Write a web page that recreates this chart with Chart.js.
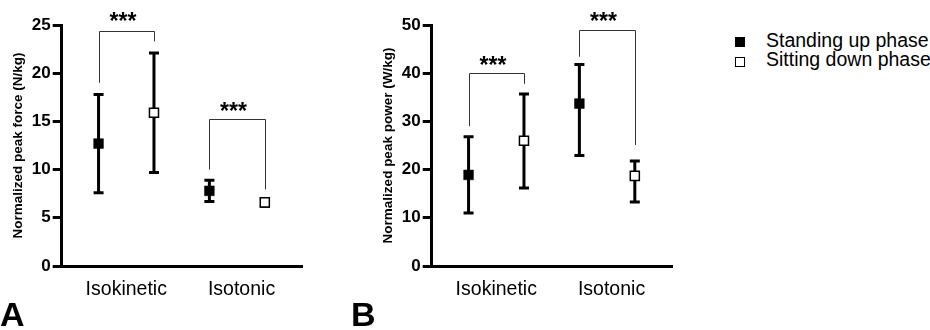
<!DOCTYPE html>
<html>
<head>
<meta charset="utf-8">
<script src="https://cdn.jsdelivr.net/npm/chart.js@4/dist/chart.umd.min.js"></script>
<style>
  body { margin: 0; background: #fff; font-family: "Liberation Sans", Arial, sans-serif; }
  #wrap { position: relative; width: 930px; height: 330px; overflow: hidden; }
  canvas { position: absolute; top: 0; }
  #chartA { left: 0; }
  #chartB { left: 370px; }
  .letter { position: absolute; font-weight: bold; font-size: 34px; line-height: 34px; color: #000; }
  .leg-text { position: absolute; left: 766px; font-size: 19.5px; line-height: 19.5px; color: #000; white-space: nowrap; }
  .leg-box { position: absolute; left: 735px; width: 9.5px; height: 9.5px; box-sizing: border-box; border: 1.5px solid #000; }
</style>
</head>
<body>
<div id="wrap">
  <canvas id="chartA" width="320" height="330"></canvas>
  <canvas id="chartB" width="320" height="330"></canvas>
  <div class="letter" style="left:0;top:297px;">A</div>
  <div class="letter" style="left:351px;top:297px;">B</div>
  <div class="leg-box" style="top:37px;background:#000;"></div>
  <div class="leg-text" style="top:31px;">Standing up phase</div>
  <div class="leg-box" style="top:57px;background:#fff;"></div>
  <div class="leg-text" style="top:50px;">Sitting down phase</div>
</div>
<script>
const categories = ['Isokinetic', 'Isotonic'];
const categoryTickPos = [1.5, 3.58];
// x slots: standing / sitting for each category
const standingX = [1, 3];
const sittingX = [2, 4];

// Panel A - normalized peak force (N/kg)
const forceStanding = [12.7, 7.8];
const forceStandingLow = [7.6, 6.7];
const forceStandingHigh = [17.8, 8.9];
const forceSitting = [15.9, 6.6];
const forceSittingLow = [9.7, 6.2];
const forceSittingHigh = [22.1, 6.95];
const forceTicks = [0, 5, 10, 15, 20, 25];
const forceBracketTop = [24.4, 15.2];
const forceBracketLeft = [19.0, 10.0];
const forceBracketRight = [23.3, 7.95];
const forceStarsY = [26.0, 16.6];

// Panel B - normalized peak power (W/kg)
const powerStanding = [18.9, 33.7];
const powerStandingLow = [11.0, 22.9];
const powerStandingHigh = [26.8, 41.8];
const powerSitting = [26.0, 18.7];
const powerSittingLow = [16.2, 13.3];
const powerSittingHigh = [35.7, 21.8];
const powerTicks = [0, 10, 20, 30, 40, 50];
const powerBracketTop = [40.0, 49.0];
const powerBracketLeft = [29.0, 43.4];
const powerBracketRight = [37.8, 25.1];
const powerStarsY = [42.8, 52.0];

function points(xs, ys, lows, highs) {
    return xs.map((x, i) => ({ x: x, y: ys[i], yMin: lows[i], yMax: highs[i] }));
}

// error bars drawn under the markers
const errorBarPlugin = {
    id: 'errorBars',
    beforeDatasetsDraw(chart) {
        const { ctx, scales: { x, y } } = chart;
        ctx.save();
        ctx.strokeStyle = '#000';
        ctx.lineWidth = 3;
        ctx.lineCap = 'butt';
        chart.data.datasets.forEach(ds => {
            ds.data.forEach(p => {
                const px = x.getPixelForValue(p.x);
                const top = y.getPixelForValue(p.yMax);
                const bot = y.getPixelForValue(p.yMin);
                ctx.beginPath();
                ctx.moveTo(px, top);
                ctx.lineTo(px, bot);
                ctx.moveTo(px - 5, top);
                ctx.lineTo(px + 5, top);
                ctx.moveTo(px - 5, bot);
                ctx.lineTo(px + 5, bot);
                ctx.stroke();
            });
        });
        ctx.restore();
    }
};

// significance brackets with stars
const bracketPlugin = {
    id: 'brackets',
    afterDatasetsDraw(chart, args, opts) {
        const { ctx, scales: { x, y } } = chart;
        ctx.save();
        ctx.strokeStyle = '#333';
        ctx.lineWidth = 1;
        opts.top.forEach((t, i) => {
            const x1 = Math.round(x.getPixelForValue(standingX[i])) + 0.5;
            const x2 = Math.round(x.getPixelForValue(sittingX[i])) + 0.5;
            const yt = Math.round(y.getPixelForValue(t)) + 0.5;
            ctx.beginPath();
            ctx.moveTo(x1, y.getPixelForValue(opts.left[i]));
            ctx.lineTo(x1, yt);
            ctx.lineTo(x2, yt);
            ctx.lineTo(x2, y.getPixelForValue(opts.right[i]));
            ctx.stroke();

            ctx.fillStyle = '#000';
            ctx.font = 'bold 23px "Liberation Sans", Arial, sans-serif';
            ctx.textAlign = 'center';
            ctx.textBaseline = 'alphabetic';
            ctx.fillText('***', (x1 + x2) / 2 - 4, y.getPixelForValue(opts.stars[i]) + 13.5);
        });
        ctx.restore();
    }
};

function makePanel(canvasId, title, yTicks, standing, sitting, brackets) {
    const ctx = document.getElementById(canvasId).getContext('2d');
    return new Chart(ctx, {
        type: 'scatter',
        data: {
            datasets: [
                {
                    label: 'Standing up phase',
                    data: standing,
                    pointStyle: 'rect',
                    pointRadius: 6.9,
                    backgroundColor: '#000',
                    borderColor: '#000',
                    borderWidth: 0.5
                },
                {
                    label: 'Sitting down phase',
                    data: sitting,
                    pointStyle: 'rect',
                    pointRadius: 6.4,
                    backgroundColor: '#fff',
                    borderColor: '#000',
                    borderWidth: 1.5
                }
            ]
        },
        options: {
            responsive: false,
            animation: false,
            devicePixelRatio: 1,
            layout: { padding: { left: 0, top: 25, right: 17.5, bottom: 0 } },
            plugins: {
                legend: { display: false },
                tooltip: { enabled: false },
                brackets: brackets
            },
            scales: {
                x: {
                    type: 'linear',
                    min: 0.335,
                    max: 4.68,
                    afterBuildTicks: scale => {
                        scale.ticks = categoryTickPos.map(v => ({ value: v }));
                    },
                    afterFit: scale => { scale.height = 64; },
                    grid: { display: true, drawOnChartArea: false, drawTicks: false },
                    border: { display: true, color: '#000', width: 3 },
                    ticks: {
                        autoSkip: false,
                        maxRotation: 0,
                        padding: 12,
                        color: '#000',
                        font: { family: '"Liberation Sans", Arial, sans-serif', size: 19.5 },
                        callback: value => categories[categoryTickPos.indexOf(value)]
                    }
                },
                y: {
                    min: yTicks[0],
                    max: yTicks[yTicks.length - 1],
                    afterBuildTicks: scale => {
                        scale.ticks = yTicks.map(v => ({ value: v }));
                    },
                    afterFit: scale => { scale.width = 61.7; },
                    grid: {
                        drawOnChartArea: false,
                        drawTicks: true,
                        tickLength: 9,
                        tickWidth: 3,
                        tickColor: '#000'
                    },
                    border: { display: true, color: '#000', width: 3 },
                    ticks: {
                        padding: 2,
                        color: '#000',
                        font: { family: '"Liberation Sans", Arial, sans-serif', size: 17, weight: 'bold' }
                    },
                    title: {
                        display: true,
                        text: title,
                        color: '#000',
                        padding: { top: 10.6, bottom: 0 },
                        font: { family: '"Liberation Sans", Arial, sans-serif', size: 13.5, weight: 'bold' }
                    }
                }
            }
        },
        plugins: [errorBarPlugin, bracketPlugin]
    });
}

makePanel('chartA', 'Normalized peak force (N/kg)', forceTicks,
    points(standingX, forceStanding, forceStandingLow, forceStandingHigh),
    points(sittingX, forceSitting, forceSittingLow, forceSittingHigh),
    { top: forceBracketTop, left: forceBracketLeft, right: forceBracketRight, stars: forceStarsY });

makePanel('chartB', 'Normalized peak power (W/kg)', powerTicks,
    points(standingX, powerStanding, powerStandingLow, powerStandingHigh),
    points(sittingX, powerSitting, powerSittingLow, powerSittingHigh),
    { top: powerBracketTop, left: powerBracketLeft, right: powerBracketRight, stars: powerStarsY });
</script>
</body>
</html>
